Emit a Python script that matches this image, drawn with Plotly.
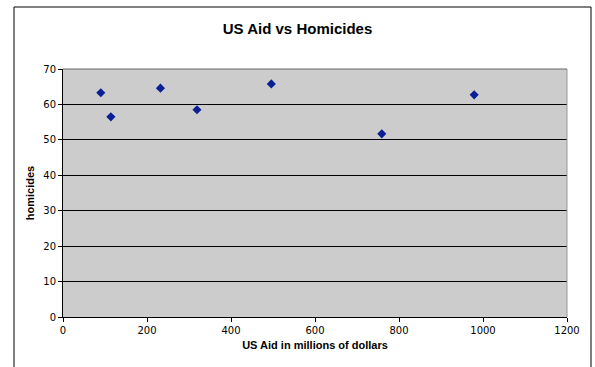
import plotly.graph_objects as go

# US aid (millions of dollars) against homicides
us_aid = [90, 114, 232, 319, 496, 759, 979]
homicides = [63.3, 56.5, 64.6, 58.5, 65.8, 51.7, 62.7]

x_ticks = [0, 200, 400, 600, 800, 1000, 1200]
y_ticks = [0, 10, 20, 30, 40, 50, 60, 70]

W, H = 595, 367
L, R, T, B = 63, 28, 69, 50
pw, ph = W - L - R, H - T - B

def px_to_paper_x(px):
    return (px - L) / pw

def px_to_paper_y(py):
    return (H - B - py) / ph

fig = go.Figure()
fig.add_trace(go.Scatter(
    x=us_aid, y=homicides, mode="markers",
    marker=dict(symbol="diamond", size=7, color="#0A1E96",
                line=dict(width=0)),
    showlegend=False, cliponaxis=False,
))

font_family = "DejaVu Sans"

fig.update_layout(
    width=W, height=H,
    margin=dict(l=L, r=R, t=T, b=B),
    paper_bgcolor="white",
    plot_bgcolor="#CCCCCC",
    title=dict(text="<b>US Aid vs Homicides</b>", x=0.5, xanchor="center",
               y=1 - 29 / H, yanchor="middle",
               font=dict(family="Liberation Sans", size=15, color="black")),
    xaxis=dict(
        range=[0, 1200], tickvals=x_ticks, ticktext=[str(v) for v in x_ticks],
        showgrid=False, zeroline=False,
        showline=True, linecolor="black", linewidth=1,
        ticks="outside", ticklen=4, tickcolor="black",
        tickfont=dict(family=font_family, size=10, color="black"),
        title=dict(text="<b>US Aid in millions of dollars</b>", standoff=6,
                   font=dict(family="Liberation Sans", size=11, color="black")),
    ),
    yaxis=dict(
        range=[0, 70], tickvals=y_ticks,
        showgrid=True, gridcolor="black", gridwidth=1,
        zeroline=False,
        showline=True, linecolor="black", linewidth=1,
        ticks="outside", ticklen=4, tickcolor="black",
        tickfont=dict(family=font_family, size=10, color="black"),
        title=dict(text="<b>homicides</b>", standoff=6,
                   font=dict(family="Liberation Sans", size=11, color="black")),
    ),
    shapes=[
        # chart frame
        dict(type="rect", xref="paper", yref="paper",
             x0=px_to_paper_x(14), x1=px_to_paper_x(591),
             y0=px_to_paper_y(380), y1=px_to_paper_y(7),
             line=dict(color="black", width=1), fillcolor="rgba(0,0,0,0)",
             layer="below"),
        # plot-area right border
        dict(type="line", xref="paper", yref="paper",
             x0=1, x1=1, y0=0, y1=1,
             line=dict(color="#999999", width=1)),
        # top edge at 70
        dict(type="line", xref="paper", yref="paper",
             x0=0, x1=1, y0=1, y1=1,
             line=dict(color="#666666", width=1)),
    ],
)

fig.write_html("out.html")
